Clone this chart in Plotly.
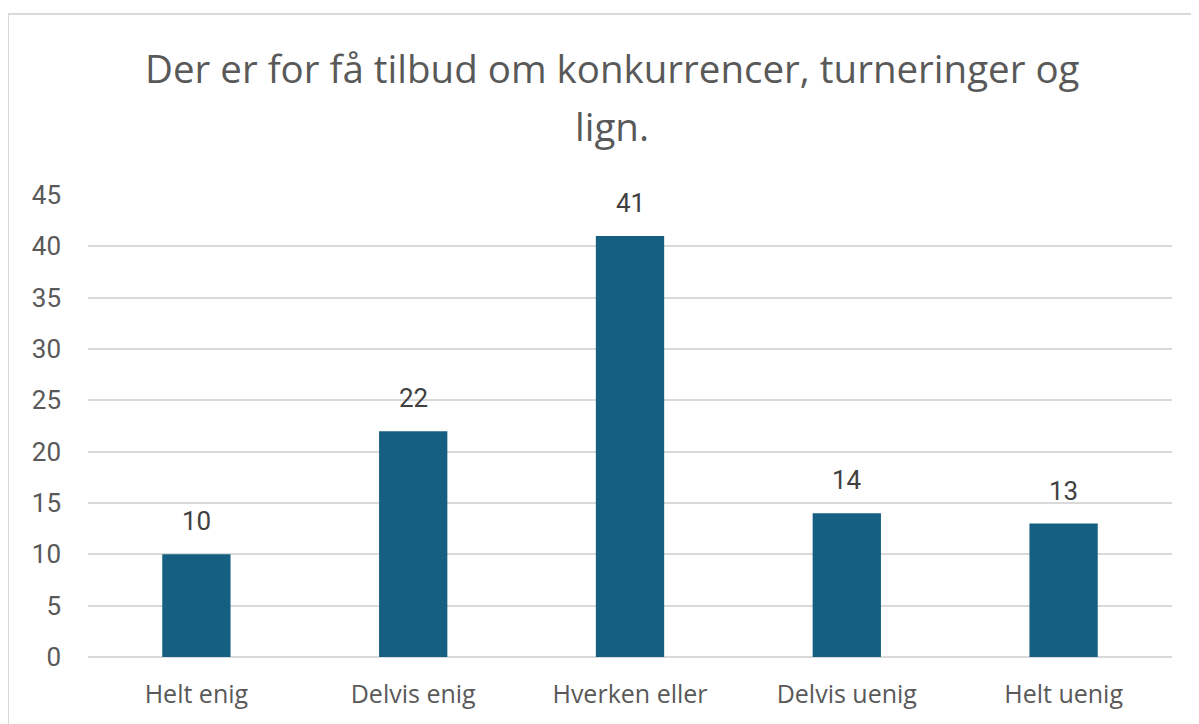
import plotly.graph_objects as go

categories = ["Helt enig", "Delvis enig", "Hverken eller", "Delvis uenig", "Helt uenig"]
values = [10, 22, 41, 14, 13]
title_lines = ["Der er for få tilbud om konkurrencer, turneringer og", "lign."]
y_ticks = [0, 5, 10, 15, 20, 25, 30, 35, 40, 45]

W, H = 1199, 724
OFF = 8  # page body margin offset
# plot area in screenshot pixels: x 88..1172, y 195..657
L, R, T, B = 88 - OFF, W - (1172 - OFF), 195 - OFF, H - (657 - OFF)
pw, ph = W - L - R, H - T - B

def px_x(p):
    return (p - OFF - L) / pw

def px_y(p):
    return (H - B - (p - OFF)) / ph

BAR = "#156082"
TXT = "#595959"
GRID = "#d9d9d9"

fig = go.Figure(go.Bar(
    x=categories, y=values, marker=dict(color=BAR, line=dict(width=0)),
    width=0.315, hoverinfo="skip",
))

annotations = []
for c, v in zip(categories, values):
    annotations.append(dict(x=c, y=v, xref="x", yref="y", text=str(v), showarrow=False,
                            yanchor="middle", yshift=33,
                            font=dict(family="Roboto", size=26, color="#404040")))

title_y = [68, 126]
for t, yy in zip(title_lines, title_y):
    annotations.append(dict(x=px_x(612), y=px_y(yy), xref="paper", yref="paper", text=t,
                            showarrow=False, xanchor="center", yanchor="middle",
                            font=dict(family="Open Sans", size=38.5, color=TXT)))

fig.update_layout(
    width=W, height=H,
    margin=dict(l=L, r=R, t=T, b=B, pad=0),
    paper_bgcolor="white", plot_bgcolor="white",
    showlegend=False,
    bargap=0.685,
    annotations=annotations,
    shapes=[dict(type="rect", xref="paper", yref="paper",
                 x0=px_x(8), x1=px_x(1260), y0=px_y(800), y1=px_y(14),
                 line=dict(color=GRID, width=2), fillcolor="rgba(0,0,0,0)", layer="below")],
    xaxis=dict(showgrid=False, showline=False, ticks="", tickfont=dict(family="Open Sans", size=25, color=TXT),
               ticklabelstandoff=20),
    yaxis=dict(range=[0, 45], tickvals=y_ticks, showgrid=True, gridcolor=GRID, gridwidth=1.5,
               zeroline=True, zerolinecolor=GRID, zerolinewidth=1.5, showline=False, ticks="",
               tickfont=dict(family="Roboto", size=26, color=TXT), ticklabelstandoff=26),
)

fig.write_html("out.html")
